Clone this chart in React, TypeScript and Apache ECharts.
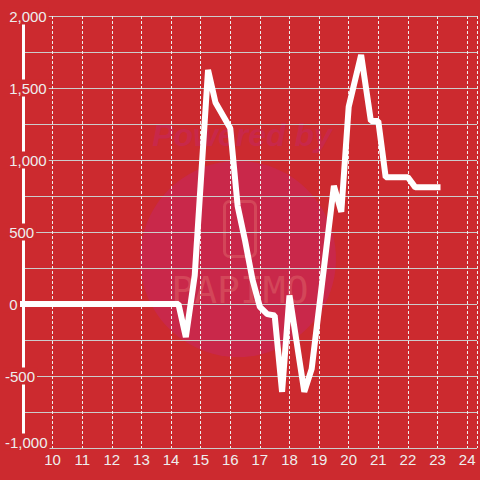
import React, { useEffect, useRef } from 'react';
import * as echarts from 'echarts';

const times = [9, 14.25, 14.5, 14.8, 15.25, 15.5, 16, 16.25, 16.5, 16.75, 17, 17.25, 17.5, 17.75, 18, 18.5, 18.75, 19.5, 19.75, 20, 20.42, 20.75, 21, 21.25, 22, 22.25, 23];
const values = [0, 0, -230, 200, 1625, 1400, 1220, 680, 440, 170, -20, -70, -80, -610, 60, -610, -450, 820, 640, 1370, 1730, 1270, 1270, 880, 880, 810, 810];

const yMin = -1000;
const yMax = 2000;
const yStep = 500;
const xMin = 9;
const xMax = 24 + 1 / 3;
const xStep = 1;

const bg = '#cc2a2f';
const labelColor = '#eeeeee';
const font = 'Liberation Sans, Arial, sans-serif';

export default function App() {
  const ref = useRef<HTMLDivElement>(null);
  useEffect(() => {
    const chart = echarts.init(ref.current!, null, { renderer: 'svg' });
    chart.setOption({
      animation: false,
      backgroundColor: bg,
      grid: { left: 20, right: 0, top: 16, bottom: 32 },
      xAxis: {
        type: 'value',
        min: xMin,
        max: xMax,
        interval: xStep,
        axisLine: { show: false },
        axisTick: { show: false },
        axisLabel: {
          color: labelColor,
          fontSize: 15,
          fontFamily: font,
          margin: 4,
          formatter: (v: number) => (Number.isInteger(v) && v > xMin ? String(v) : ''),
        },
        splitLine: { show: true, lineStyle: { color: '#eeeeee', width: 1, type: [3, 2] } },
      },
      yAxis: [
        {
          type: 'value',
          min: yMin,
          max: yMax,
          interval: yStep,
          z: 0,
          axisLine: { show: false },
          axisTick: { show: false },
          axisLabel: { show: false },
          minorTick: { show: false, splitNumber: 2 },
          splitLine: { show: true, lineStyle: { color: '#cccccc', width: 1 } },
          minorSplitLine: { show: true, lineStyle: { color: '#cccccc', width: 1 } },
        },
        {
          type: 'value',
          min: yMin,
          max: yMax,
          interval: yStep,
          position: 'left',
          z: 3,
          axisLine: { show: true, lineStyle: { color: '#ffffff', width: 3 } },
          axisTick: { show: false },
          splitLine: { show: false },
          axisLabel: {
            align: 'left',
            margin: 20,
            color: labelColor,
            fontSize: 15,
            fontFamily: font,
            formatter: (v: number) => {
              const s = v.toLocaleString('en-US');
              if (v === yMin) return '{t|' + s + '}\n{g|\u00a0}';
              return '{t|' + (v >= 0 ? '\u00a0' + s : s) + '}';
            },
            rich: {
              t: { color: labelColor, fontSize: 15, fontFamily: font, backgroundColor: bg, padding: [1, 2, 1, 2] },
              g: { fontSize: 1, lineHeight: 12 },
            },
          },
        },
      ],
      graphic: [
        { type: 'circle', z: -5, silent: true, shape: { cx: 238, cy: 259, r: 98 }, style: { fill: '#c9284a' } },
        {
          type: 'text', z: -5, silent: true, x: 242, y: 135,
          style: { text: 'Powered by', fontSize: 32, fontWeight: 'bold', fontStyle: 'italic', fontFamily: font, fill: '#c8284a', align: 'center', verticalAlign: 'middle' },
        },
        { type: 'rect', z: -4, silent: true, shape: { x: 224.5, y: 201.5, width: 31, height: 55, r: 5 }, style: { fill: 'none', stroke: '#d34659', lineWidth: 3 } },
        {
          type: 'text', z: -4, silent: true, x: 240, y: 290,
          style: { text: 'PAPIMO', fontSize: 38, fontFamily: 'DejaVu Sans Mono', fill: '#d34659', align: 'center', verticalAlign: 'middle' },
        },
      ],
      series: [
        {
          type: 'line',
          yAxisIndex: 0,
          data: times.map((t, i) => [t, values[i]]),
          symbol: 'none',
          showSymbol: false,
          clip: false,
          z: 2,
          lineStyle: { color: '#ffffff', width: 6, cap: 'square', join: 'bevel' },
        },
      ],
    });
    return () => chart.dispose();
  }, []);
  return <div ref={ref} style={{ position: 'fixed', left: 0, top: 0, width: 480, height: 480 }} />;
}
